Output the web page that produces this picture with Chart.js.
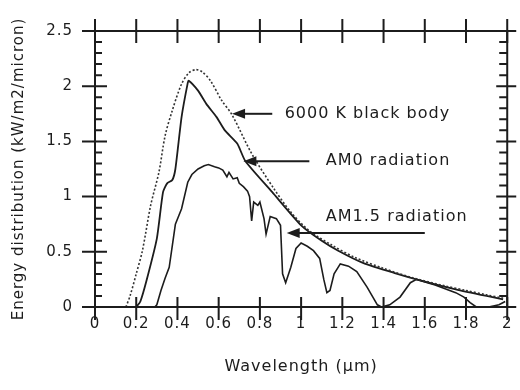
<!DOCTYPE html>
<html>
<head>
<meta charset="utf-8">
<script src="https://cdn.jsdelivr.net/npm/chart.js@4.4.0/dist/chart.umd.min.js"></script>
<style>
    html, body { margin: 0; padding: 0; background: #fff; }
    #wrap { width: 520px; height: 390px; position: relative; }
</style>
</head>
<body>
<div id="wrap"><canvas id="spectrumChart"></canvas></div>
<script>
    // Waardes: golflengte in µm, energie in kW/m2/micron
    const blackBodyWavelength = [0.15, 0.17, 0.20, 0.23, 0.27, 0.31, 0.34, 0.375, 0.42, 0.455, 0.49, 0.52, 0.56, 0.615, 0.665, 0.76, 0.865, 0.95, 1.04, 1.15, 1.26, 1.40, 1.55, 1.70, 1.80, 1.90, 1.98];
    const blackBodyEnergy     = [0.00, 0.10, 0.30, 0.51, 0.92, 1.22, 1.55, 1.78, 2.02, 2.12, 2.15, 2.13, 2.05, 1.87, 1.74, 1.39, 1.08, 0.86, 0.69, 0.56, 0.45, 0.35, 0.26, 0.19, 0.15, 0.11, 0.08];

    const am0Wavelength = [0.20, 0.22, 0.25, 0.30, 0.33, 0.35, 0.375, 0.39, 0.42, 0.45, 0.455, 0.50, 0.54, 0.59, 0.63, 0.69, 0.73, 0.86, 1.00, 1.10, 1.18, 1.30, 1.45, 1.60, 1.75, 1.90, 1.98];
    const am0Energy     = [0.00, 0.05, 0.24, 0.62, 1.04, 1.12, 1.15, 1.25, 1.72, 2.03, 2.05, 1.96, 1.84, 1.72, 1.60, 1.48, 1.32, 1.04, 0.74, 0.60, 0.51, 0.40, 0.31, 0.23, 0.16, 0.10, 0.07];

    const am15Wavelength = [0.29, 0.30, 0.32, 0.34, 0.36, 0.38, 0.39, 0.42, 0.45, 0.47, 0.50, 0.53, 0.55, 0.58, 0.60, 0.62, 0.64, 0.65, 0.67, 0.69, 0.70, 0.72, 0.74, 0.75, 0.76, 0.77, 0.79, 0.80, 0.82, 0.83, 0.85, 0.88, 0.90, 0.91, 0.925, 0.95, 0.975, 1.00, 1.03, 1.06, 1.09, 1.11, 1.125, 1.14, 1.16, 1.19, 1.23, 1.27, 1.32, 1.37, 1.39, 1.43, 1.48, 1.53, 1.56, 1.65, 1.75, 1.79, 1.82, 1.85, 1.91, 1.96, 1.99];
    const am15Energy     = [0.00, 0.02, 0.15, 0.26, 0.36, 0.62, 0.75, 0.89, 1.13, 1.20, 1.25, 1.28, 1.29, 1.27, 1.26, 1.24, 1.18, 1.22, 1.16, 1.17, 1.12, 1.09, 1.05, 1.00, 0.78, 0.95, 0.92, 0.95, 0.80, 0.66, 0.82, 0.80, 0.74, 0.30, 0.22, 0.36, 0.53, 0.58, 0.55, 0.51, 0.44, 0.25, 0.13, 0.15, 0.30, 0.39, 0.37, 0.32, 0.18, 0.02, 0.00, 0.02, 0.09, 0.22, 0.25, 0.20, 0.13, 0.09, 0.04, 0.00, 0.00, 0.02, 0.05];

    // As-bereik en tickstappen
    const xRange = { min: 0, max: 2, step: 0.2 };
    const yRange = { min: 0, max: 2.5, step: 0.5 };

    // Pijltjes met tekst, in data-coordinaten
    const annotations = [
        { text: '6000 K black body', tipX: 0.665, tipY: 1.75, tailX: 0.86, textX: 0.92, textY: 1.75 },
        { text: 'AM0 radiation', tipX: 0.72, tipY: 1.32, tailX: 1.04, textX: 1.12, textY: 1.32 },
        { text: 'AM1.5 radiation', tipX: 0.93, tipY: 0.67, tailX: 1.60, textX: 1.12, textY: 0.82 }
    ];

    const inkColor = '#1c1c1c';
    const fontFamily = '"DejaVu Sans", Verdana, sans-serif';

    function toPoints(xs, ys) {
        return xs.map((x, i) => ({ x: x, y: ys[i] }));
    }

    // "1" in plaats van "1.0"
    function formatTick(value) {
        return String(Number(value.toFixed(2)));
    }

    // Kader met ticks aan alle vier kanten
    const frameAndTicks = {
        id: 'frameAndTicks',
        beforeDraw(chart) {
            chart.ctx.letterSpacing = '1px';
        },
        afterDatasetsDraw(chart) {
            const { ctx, chartArea: a, scales: { x, y } } = chart;
            ctx.save();
            ctx.strokeStyle = inkColor;
            ctx.lineWidth = 2;
            ctx.beginPath();
            ctx.rect(a.left, a.top, a.right - a.left, a.bottom - a.top);
            ctx.stroke();

            ctx.beginPath();
            x.ticks.forEach(t => {
                const px = x.getPixelForValue(t.value);
                ctx.moveTo(px, a.bottom - 10);
                ctx.lineTo(px, a.bottom + 13);
                ctx.moveTo(px, a.top - 12);
                ctx.lineTo(px, a.top + 12);
            });
            y.ticks.forEach((t, i) => {
                const py = y.getPixelForValue(t.value);
                ctx.moveTo(a.left - 13, py);
                ctx.lineTo(a.left + 12, py);
                ctx.moveTo(a.right - 11, py);
                ctx.lineTo(a.right + 9, py);
                if (i < y.ticks.length - 1) {
                    const next = y.ticks[i + 1].value;
                    for (let k = 1; k < 5; k++) {
                        const pm = y.getPixelForValue(t.value + (next - t.value) * k / 5);
                        ctx.moveTo(a.left, pm);
                        ctx.lineTo(a.left + 7, pm);
                        ctx.moveTo(a.right - 8, pm);
                        ctx.lineTo(a.right, pm);
                    }
                }
            });
            ctx.stroke();

            // annotaties
            ctx.fillStyle = inkColor;
            ctx.font = '16px ' + fontFamily;
            ctx.textBaseline = 'middle';
            ctx.textAlign = 'left';
            annotations.forEach(an => {
                const tipX = x.getPixelForValue(an.tipX);
                const tipY = y.getPixelForValue(an.tipY);
                const tailX = x.getPixelForValue(an.tailX);
                ctx.beginPath();
                ctx.moveTo(tipX + 10, tipY);
                ctx.lineTo(tailX, tipY);
                ctx.stroke();
                ctx.beginPath();
                ctx.moveTo(tipX, tipY);
                ctx.lineTo(tipX + 13, tipY - 5);
                ctx.lineTo(tipX + 13, tipY + 5);
                ctx.closePath();
                ctx.fill();
                ctx.fillText(an.text, x.getPixelForValue(an.textX), y.getPixelForValue(an.textY));
            });
            ctx.restore();
        },
        afterDraw(chart) {
            chart.ctx.letterSpacing = '0px';
        }
    };

    const ctx = document.getElementById('spectrumChart').getContext('2d');
    const spectrumChart = new Chart(ctx, {
        type: 'scatter',
        data: {
            datasets: [
                {
                    label: '6000 K black body',
                    data: toPoints(blackBodyWavelength, blackBodyEnergy),
                    borderColor: '#333',
                    borderWidth: 1.6,
                    borderDash: [2, 2],
                    tension: 0.3
                },
                {
                    label: 'AM0 radiation',
                    data: toPoints(am0Wavelength, am0Energy),
                    borderColor: inkColor,
                    borderWidth: 1.8,
                    tension: 0.2
                },
                {
                    label: 'AM1.5 radiation',
                    data: toPoints(am15Wavelength, am15Energy),
                    borderColor: inkColor,
                    borderWidth: 1.6,
                    tension: 0
                }
            ]
        },
        options: {
            responsive: true,
            maintainAspectRatio: false,
            animation: false,
            showLine: true,
            elements: { point: { radius: 0, hoverRadius: 0 } },
            layout: { padding: { top: 25, right: 9, left: 0, bottom: 0 } },
            plugins: {
                legend: { display: false },
                tooltip: { enabled: false }
            },
            scales: {
                x: {
                    type: 'linear',
                    min: xRange.min,
                    max: xRange.max,
                    afterFit: s => { s.height = 83; },
                    grid: { display: false, drawTicks: false },
                    border: { display: false },
                    ticks: {
                        stepSize: xRange.step,
                        padding: 8,
                        color: inkColor,
                        font: { family: fontFamily, size: 15 },
                        callback: formatTick
                    },
                    title: {
                        display: true,
                        text: 'Wavelength (µm)',
                        color: inkColor,
                        font: { family: fontFamily, size: 16 },
                        padding: { top: 0, bottom: 14 }
                    }
                },
                y: {
                    min: yRange.min,
                    max: yRange.max,
                    afterFit: s => { s.width = 95; },
                    grid: { display: false, drawTicks: false },
                    border: { display: false },
                    ticks: {
                        stepSize: yRange.step,
                        padding: 22,
                        color: inkColor,
                        font: { family: fontFamily, size: 15 },
                        callback: formatTick
                    },
                    title: {
                        display: true,
                        text: 'Energy distribution (kW/m2/micron)',
                        color: inkColor,
                        font: { family: fontFamily, size: 15 },
                        padding: { top: 10, bottom: 0 }
                    }
                }
            }
        },
        plugins: [frameAndTicks]
    });
</script>
</body>
</html>
